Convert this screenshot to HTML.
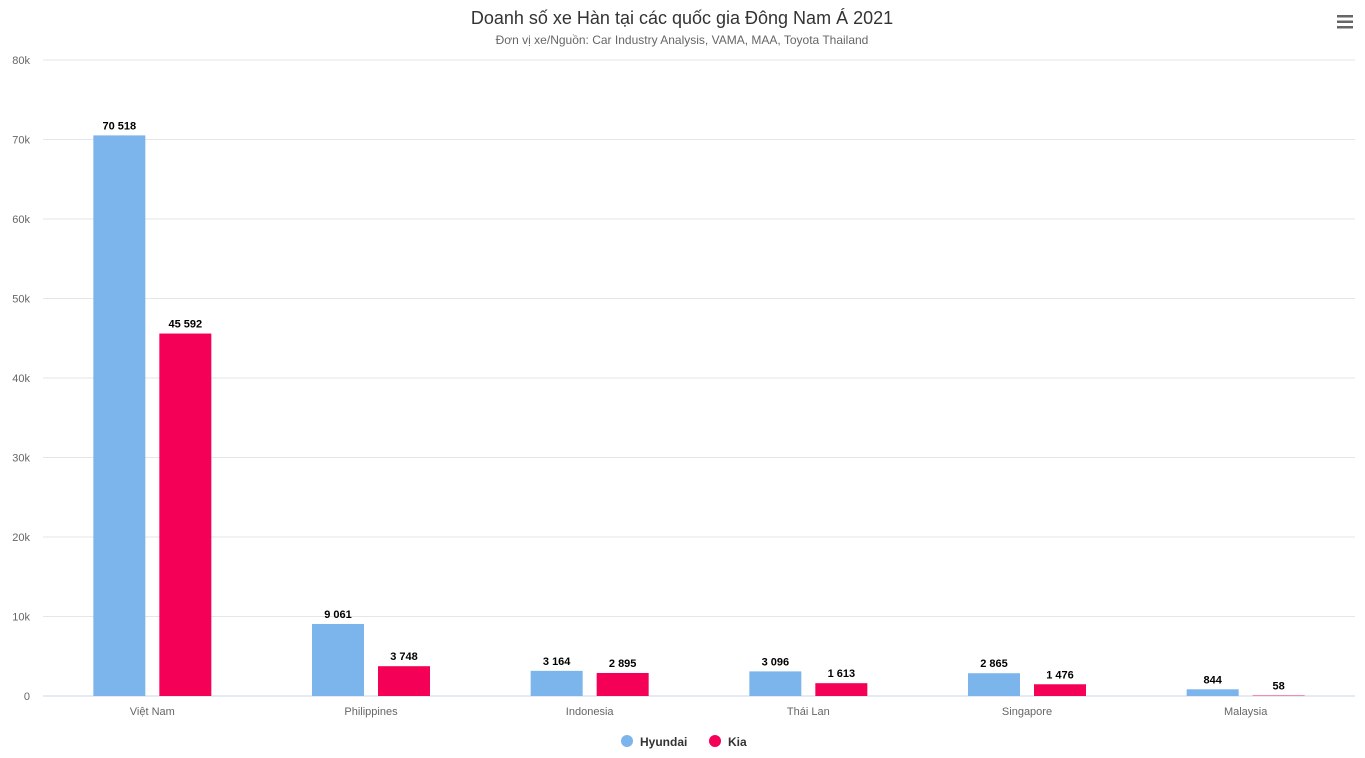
<!DOCTYPE html>
<html><head><meta charset="utf-8">
<style>
body{margin:0;background:#fff;font-family:"Liberation Sans",Arial,sans-serif;}
svg text{font-family:"Liberation Sans",Arial,sans-serif;}
</style></head>
<body>
<svg id="c" width="1365" height="753">
<text x="682" y="24" text-anchor="middle" font-size="18" fill="#333">Doanh số xe Hàn tại các quốc gia Đông Nam Á 2021</text>
<text x="682" y="44" text-anchor="middle" font-size="12" fill="#666">Đơn vị xe/Nguồn: Car Industry Analysis, VAMA, MAA, Toyota Thailand</text>
<g>
<rect x="1337" y="15" width="16" height="2.5" fill="#666"/><rect x="1337" y="20.5" width="16" height="2.5" fill="#666"/><rect x="1337" y="26" width="16" height="2.5" fill="#666"/>
</g>
<g id="grid"></g><g id="bars"></g><g id="labels"></g>
<g>
<g><circle cx="627" cy="741" r="6" fill="#7cb5ec"/><text x="640" y="746" font-size="12" font-weight="bold" fill="#333">Hyundai</text></g>
<g><circle cx="715" cy="741" r="6" fill="#f50057"/><text x="728" y="746" font-size="12" font-weight="bold" fill="#333">Kia</text></g>
</g>
</svg>
<script>
const categories=["Việt Nam","Philippines","Indonesia","Thái Lan","Singapore","Malaysia"];
const hyundai=[70518,9061,3164,3096,2865,844];
const kia=[45592,3748,2895,1613,1476,58];
const yTicks=[0,10000,20000,30000,40000,50000,60000,70000,80000];
const yTickLabels=["0","10k","20k","30k","40k","50k","60k","70k","80k"];
const NS="http://www.w3.org/2000/svg";
const L=43,R=1355,T=60,B=696,YMAX=80000;
const y=v=>B-(v/YMAX)*(B-T);
const bw=(R-L)/categories.length;
const xc=i=>L+bw*(i+0.5);
function mk(tag,attrs,parent){const e=document.createElementNS(NS,tag);for(const k in attrs)e.setAttribute(k,attrs[k]);parent.appendChild(e);return e;}
const g=document.getElementById('grid'),bars=document.getElementById('bars'),lab=document.getElementById('labels');
yTicks.forEach((t,i)=>{
 const ln=mk('line',{x1:L,x2:R,y1:y(t),y2:y(t),stroke:i===0?'#ccd6eb':'#e6e6e6','stroke-width':1},g);
 
 
 const tx=mk('text',{x:30,y:y(t)+4,'text-anchor':'end','font-size':11,fill:'#666'},g);
 tx.textContent=yTickLabels[i];
 
 
});
const fmt=v=>String(v).replace(/\B(?=(\d{3})+(?!\d))/g,' ');
categories.forEach((c,i)=>{
 const tx=mk('text',{x:xc(i),y:715,'text-anchor':'middle','font-size':11,fill:'#666'},lab);
 tx.textContent=c;
 
 
 [[hyundai,'#7cb5ec',-33],[kia,'#f50057',33]].forEach(([s,col,off],j)=>{
  const v=s[i];
  const r=mk('rect',{x:xc(i)+off-26,y:y(v),width:52,height:B-y(v),fill:col},bars);
  
  
  const t=mk('text',{x:xc(i)+off,y:y(v)-6,'text-anchor':'middle','font-size':11,'font-weight':'bold',fill:'#000'},lab);
  t.textContent=fmt(v);
  
  
 });
});
</script>
</body></html>
